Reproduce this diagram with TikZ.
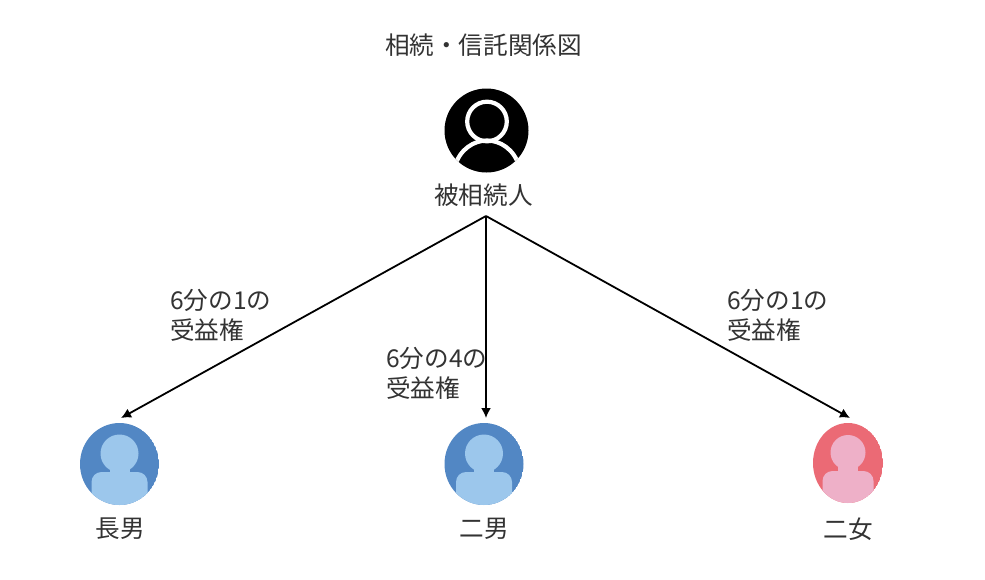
\documentclass[tikz,border=0pt]{standalone}
\usepackage{fontspec}
\setmainfont{Noto Sans CJK JP}[Scale=1]
\usetikzlibrary{shapes.geometric,arrows.meta}
\definecolor{blueout}{HTML}{5287C4}
\definecolor{bluein}{HTML}{9CC7EC}
\definecolor{pinkout}{HTML}{EB6A75}
\definecolor{pinkin}{HTML}{EEB0C8}
\definecolor{txt}{HTML}{333333}
\tikzset{
  lab/.style={font=\fontsize{24.6}{30}\selectfont, text=txt, inner sep=0pt},
  note/.style={lab, align=left, anchor=north west},
  conn/.style={draw=black, line width=1.8pt, -{Latex[length=10pt,width=10pt]}},
}
\newcommand{\figperson}[8]{% cx cy rx ry out in headr bodyhalf
  \begin{scope}
    \clip (#1,#2) ellipse [x radius=#3, y radius=#4];
    \fill[#5] (#1,#2) ellipse [x radius=#3, y radius=#4];
    \fill[#6] (#1,#2-10.5) circle [radius=#7];
    \fill[#6] (#1-10,#2) rectangle (#1+10,#2+12);
    \fill[#6, rounded corners=10pt] (#1-#8,#2+50) rectangle (#1+#8,#2+8);
  \end{scope}
}
\begin{document}
\begin{tikzpicture}[x=1pt,y=-1pt]
\useasboundingbox (0,0) rectangle (985,579);
\fill[white] (0,0) rectangle (985,579);
\node[lab] (title) at (483.5,45) {相続・信託関係図};
% deceased icon
\fill[black] (486.5,130.5) circle [radius=42];
\begin{scope}
  \clip (486.5,130.5) circle [radius=42];
  \draw[white, line width=4.2pt] (487,121.5) circle [radius=19.8];
  \draw[white, line width=4.2pt] (455,166) .. controls (460,149) and (474,140.5) .. (487,140.5) .. controls (500,140.5) and (514,149) .. (519,166);
\end{scope}
\node[lab] (root) at (483.5,195) {被相続人};
\coordinate (apex) at (486,216);
% heirs
\figperson{119.5}{464}{39.5}{41}{blueout}{bluein}{19}{28}
\figperson{484}{464}{39.5}{41}{blueout}{bluein}{19}{28}
\figperson{848}{463}{35}{40}{pinkout}{pinkin}{17.5}{25.5}
\node[lab] (son1) at (120,529) {長男};
\node[lab] (son2) at (484,529) {二男};
\node[lab] (dau) at (848,529) {二女};
\coordinate (e1) at (121,418);
\coordinate (e2) at (486,418);
\coordinate (e3) at (850,418);
\draw[conn] (apex) -- (e1);
\draw[conn] (apex) -- (e2);
\draw[conn] (apex) -- (e3);
\node[note] (n1) at (170,289) {6分の1の\\受益権};
\node[note] (n2) at (386,347) {6分の4の\\受益権};
\node[note] (n3) at (727,289) {6分の1の\\受益権};
\end{tikzpicture}
\end{document}
